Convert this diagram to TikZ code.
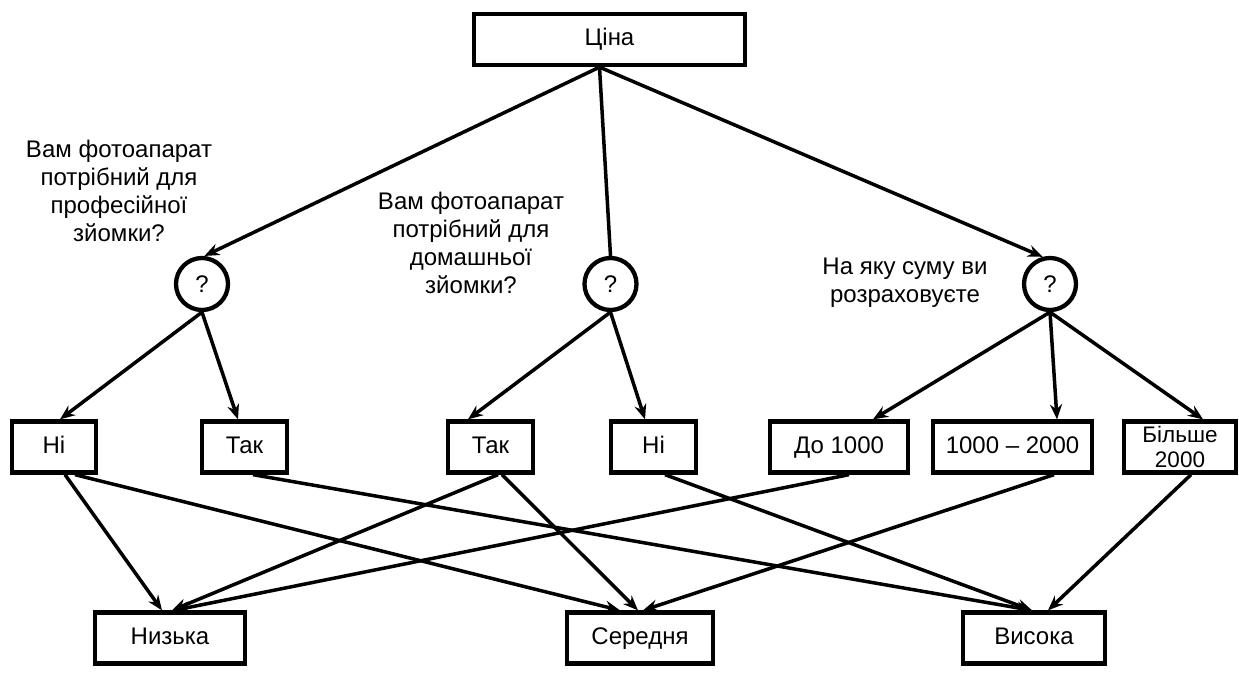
\documentclass[tikz,border=0pt]{standalone}
\usepackage{fontspec}
\setmainfont{Liberation Sans}
\usetikzlibrary{arrows.meta}

\begin{document}
\begin{tikzpicture}[x=1pt, y=-1pt,
    every node/.style={font=\fontsize{24}{28}\selectfont},
    box/.style={draw, line width=4.3pt, minimum height=51pt, inner sep=0pt, align=center},
    word/.style={box, text height=17.5pt, text depth=5pt},
    quest/.style={draw, circle, line width=4.3pt, minimum size=52pt, inner sep=0pt},
    arr/.style={line width=3.5pt, -{Stealth[length=15pt, width=12pt, inset=5pt]}},
    lnk/.style={line width=3.5pt}]

  \useasboundingbox (0,0) rectangle (1239,675);

  \node[word, minimum width=271pt] (cina) at (609.5, 39.5) {Ціна};

  \node[quest] (q1) at (202, 284) {?};
  \node[quest] (q2) at (610.5, 284) {?};
  \node[quest] (q3) at (1050, 284) {?};

  \node[align=center] (lbl1) at (119, 191) {Вам фотоапарат\\потрібний для\\професійної\\зйомки?};
  \node[align=center] (lbl2) at (471, 243) {Вам фотоапарат\\потрібний для\\домашньої\\зйомки?};
  \node[align=center] (lbl3) at (905, 283) {На яку суму ви\\розраховуєте};

  \node[word, minimum width=84pt] (ni1) at (54, 447) {Ні};
  \node[word, minimum width=85pt] (tak1) at (244.5, 447) {Так};
  \node[word, minimum width=85pt] (tak2) at (490.5, 447) {Так};
  \node[word, minimum width=85pt] (ni2) at (653.5, 447) {Ні};
  \node[word, minimum width=138pt] (do1000) at (839, 447) {До 1000};
  \node[word, minimum width=159pt] (r1000) at (1012.5, 447) {1000 – 2000};
  \node[box, minimum width=112pt, font=\fontsize{22.5}{25}\selectfont] (bilshe) at (1180, 447) {Більше\\2000};

  \node[word, minimum width=150pt] (nyzka) at (170, 638) {Низька};
  \node[word, minimum width=146pt] (seredn) at (640, 638) {Середня};
  \node[word, minimum width=142pt] (vysoka) at (1034, 638) {Висока};

  % price -> questions
  \draw[arr] ([xshift=-10pt]cina.south) -- (q1.85);
  \draw[lnk] ([xshift=-10pt]cina.south) -- (q2.north);
  \draw[arr] ([xshift=-10pt]cina.south) -- (q3.105);

  % questions -> answers
  \draw[arr] (q1.south) -- ([xshift=6pt]ni1.north);
  \draw[arr] (q1.south) -- ([xshift=-6.5pt]tak1.north);
  \draw[arr] (q2.south) -- ([xshift=-22.5pt]tak2.north);
  \draw[arr] (q2.south) -- ([xshift=-8.5pt]ni2.north);
  \draw[arr] (q3.south) -- ([xshift=34pt]do1000.north);
  \draw[arr] (q3.south) -- ([xshift=44.5pt]r1000.north);
  \draw[arr] (q3.south) -- ([xshift=23pt]bilshe.north);

  % answers -> price level
  \draw[arr] ([xshift=11pt]ni1.south) -- ([xshift=-8pt]nyzka.north);
  \draw[arr] ([xshift=21pt]ni1.south) -- ([xshift=-20pt]seredn.north);
  \draw[arr] ([xshift=8.5pt]tak1.south) -- ([xshift=-2pt]vysoka.north);
  \draw[arr] ([xshift=7.5pt]tak2.south) -- ([xshift=2pt]nyzka.north);
  \draw[arr] ([xshift=11.5pt]tak2.south) -- ([xshift=-2pt]seredn.north);
  \draw[arr] ([xshift=11.5pt]ni2.south) -- ([xshift=-2pt]vysoka.north);
  \draw[arr] ([xshift=10pt]do1000.south) -- ([xshift=4pt]nyzka.north);
  \draw[arr] ([xshift=41.5pt]r1000.south) -- ([xshift=3pt]seredn.north);
  \draw[arr] ([xshift=11pt]bilshe.south) -- ([xshift=14pt]vysoka.north);

\end{tikzpicture}
\end{document}
